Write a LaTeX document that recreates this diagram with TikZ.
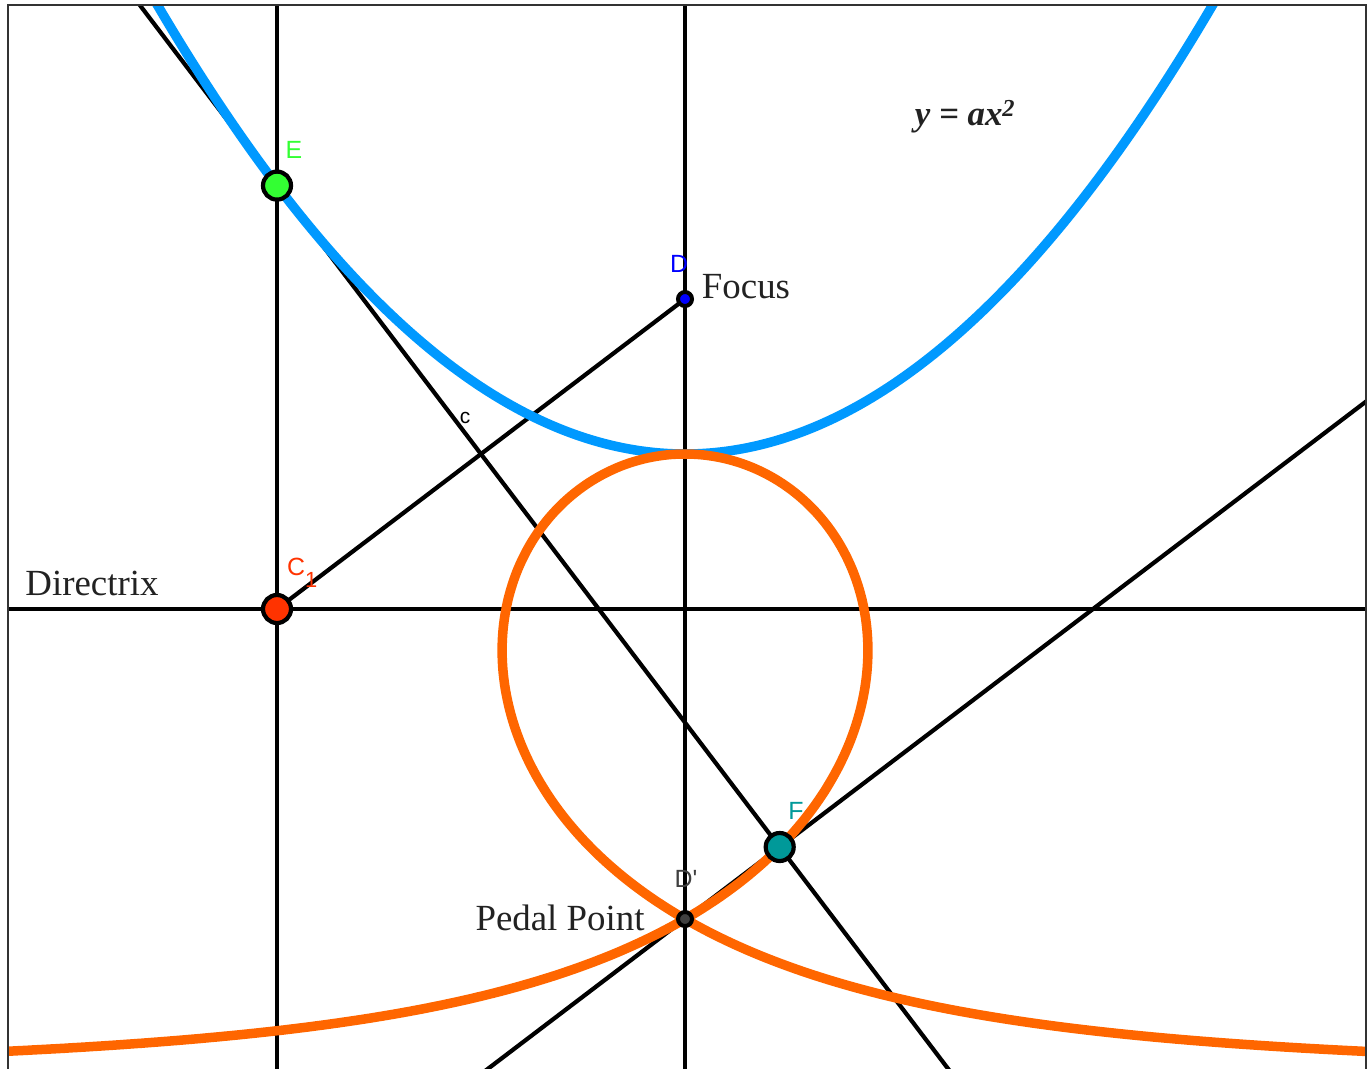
\documentclass[tikz,border=0pt]{standalone}
\usepackage{fontspec}
\setmainfont{Liberation Serif}
\newfontfamily\lsans{Liberation Sans}
\usetikzlibrary{calc}
\definecolor{parablue}{HTML}{0099FF}
\definecolor{pedalorange}{HTML}{FF6600}
\definecolor{egreen}{HTML}{33FF33}
\definecolor{cred}{HTML}{FF3300}
\definecolor{fteal}{HTML}{009999}
\definecolor{dblue}{HTML}{0000FF}
\definecolor{txtgray}{HTML}{222222}
\definecolor{framegray}{HTML}{333333}
\begin{document}
\begin{tikzpicture}[x=1bp,y=-1bp,
  blk/.style={line width=4.2bp, black},
  bigcurve/.style={line width=9.5bp},
  ptbig/.style={circle, draw=black, line width=4.2bp, minimum size=28bp, inner sep=0pt},
  ptsmall/.style={circle, draw=black, line width=4bp, minimum size=14bp, inner sep=0pt},
  lbl/.style={font=\lsans\fontsize{25}{25}\selectfont, inner sep=0pt},
  serlbl/.style={font=\fontsize{37}{40}\selectfont, text=txtgray, inner sep=0pt}]
\useasboundingbox (0,0) rectangle (1371,1068);
% key coordinates
\coordinate (e) at (277,185.6);
\coordinate (c) at (277,609);
\coordinate (d) at (685,299);
\coordinate (dp) at (685,919);
\coordinate (f) at (779.7,847);
\coordinate (vt1) at (277,0);
\coordinate (vb1) at (277,1080);
\coordinate (vt2) at (685,0);
\coordinate (vb2) at (685,1080);
\coordinate (hl) at (0,609);
\coordinate (hr) at (1380,609);
\coordinate (tA) at ($(e)+(-200,-263.2)$);
\coordinate (tB) at ($(e)+(800,1052.8)$);
\coordinate (pA) at ($(dp)+(-300,228)$);
\coordinate (pB) at ($(dp)+(800,-607.9)$);
\begin{scope}
\clip (9,6) rectangle (1365,1075);
\draw[blk] (vt1) -- (vb1);
\draw[blk] (vt2) -- (vb2);
\draw[blk] (hl) -- (hr);
\draw[blk] (tA) -- (tB);
\draw[blk] (pA) -- (pB);
\draw[blk] (c) -- (d);
\draw[bigcurve, parablue] plot[domain=120:1250, samples=300, smooth] (\x, {454-((\x-685)/24.9)*((\x-685)/24.9)});
\draw[bigcurve, pedalorange] plot[domain=-6:6, samples=801, smooth]
  ({685+155*(\x*(\x*\x-3)/(1+\x*\x))}, {454+620*(\x*\x/(1+\x*\x))});
\end{scope}
\draw[line width=2.2bp, framegray] (8,1075) -- (8,5) -- (1366,5) -- (1366,1075);
% points
\node[ptbig, fill=egreen] (E) at (e) {};
\node[ptbig, fill=cred] (C) at (c) {};
\node[ptbig, fill=fteal] (F) at (f) {};
\node[ptsmall, fill=dblue] (D) at (d) {};
\node[ptsmall, fill=black!75] (Dp) at (dp) {};
% labels
\node[lbl, text=egreen] (Elbl) at (294,150) {E};
\node[lbl, text=cred, anchor=west] (Clbl) at (287,573) {C\raisebox{-0.5em}{\fontsize{22}{22}\selectfont 1}};
\node[lbl, text=fteal] (Flbl) at (796,811) {F};
\node[lbl, text=dblue] (Dlbl) at (679,264) {D};
\node[lbl, text=black!75] (Dplbl) at (686,879) {D'};
\node[lbl, font=\lsans\fontsize{21}{21}\selectfont] (clbl) at (465,418) {c};
\node[serlbl] (focus) at (746,287) {Focus};
\node[serlbl] (directrix) at (92,583) {Directrix};
\node[serlbl] (pedal) at (560,918) {Pedal Point};
\node[serlbl, font=\bfseries\itshape\fontsize{35}{38}\selectfont] (eq) at (965,117) {y = ax\textsuperscript{2}};
\end{tikzpicture}
\end{document}
